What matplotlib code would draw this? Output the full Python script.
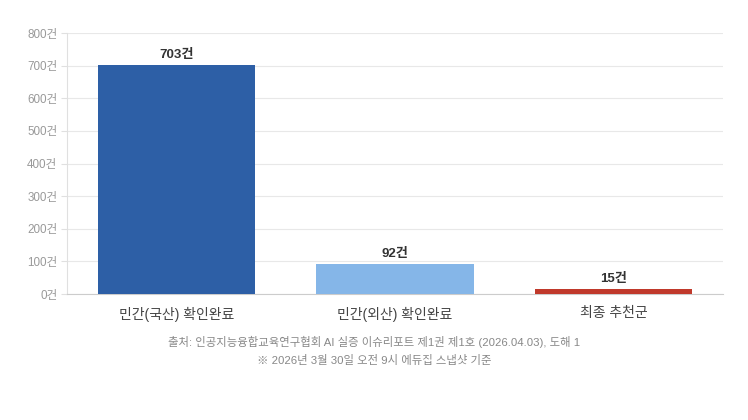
import matplotlib.pyplot as plt

plt.rcParams['font.family'] = ['Liberation Sans', 'Noto Sans CJK KR', 'DejaVu Sans']

categories = ['민간(국산) 확인완료', '민간(외산) 확인완료', '최종 추천군']
values = [703, 92, 15]
colors = ['#2d5fa6', '#85b6e8', '#c0392b']
yticks = [0, 100, 200, 300, 400, 500, 600, 700, 800]

fig = plt.figure(figsize=(7.48, 4.2), dpi=100)
ax = fig.add_axes([0.0896, 0.3, 0.877, 0.6214])

x = range(len(categories))
bars = ax.bar(x, values, width=0.72, color=colors, zorder=3)
for b, v in zip(bars, values):
    ax.text(b.get_x() + b.get_width() / 2, v + 12, f'{v}건', ha='center', va='bottom',
            fontsize=9.5, fontweight='bold', color='#333333')

ax.set_xlim(-0.5, 2.5)
ax.set_ylim(0, 800)
ax.set_yticks(yticks)
ax.set_yticklabels([f'{t}건' for t in yticks], fontsize=8.4, color='#999999')
ax.set_xticks(list(x))
ax.set_xticklabels(categories, fontsize=10, color='#444444')
ax.tick_params(axis='x', length=0, pad=9)
ax.tick_params(axis='y', length=4, color='#e0e0e0', pad=3)
ax.grid(axis='y', color='#e8e8e8', linewidth=0.8, zorder=0)
for s in ['top', 'right']:
    ax.spines[s].set_visible(False)
ax.spines['left'].set_color('#e0e0e0')
ax.spines['bottom'].set_color('#cccccc')

fig.text(0.5, 0.186, '출처: 인공지능융합교육연구협회 AI 실증 이슈리포트 제1권 제1호 (2026.04.03), 도해 1',
         ha='center', va='center', fontsize=8.2, color='#888888')
fig.text(0.5, 0.141, '※ 2026년 3월 30일 오전 9시 에듀집 스냅샷 기준',
         ha='center', va='center', fontsize=8.2, color='#888888')

fig.savefig('out.png', dpi=100)
